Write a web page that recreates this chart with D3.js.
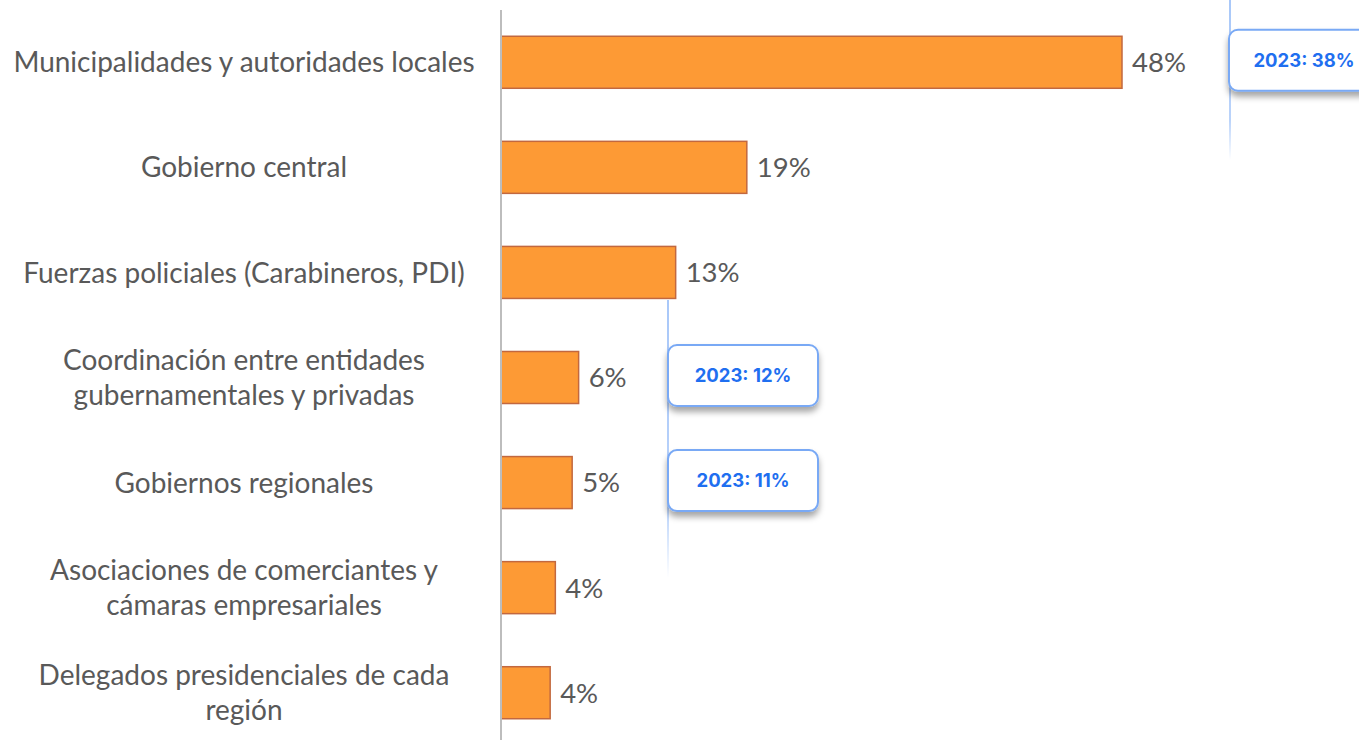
<!DOCTYPE html>
<html>
<head>
<meta charset="utf-8">
<script src="https://cdn.jsdelivr.net/npm/d3@7"></script>
<style>
  body { margin: 0; background: #fff; }
  svg { display: block; }
</style>
</head>
<body>
<svg width="1359" height="740"></svg>
<script>
var categories = [
  ["Municipalidades y autoridades locales"],
  ["Gobierno central"],
  ["Fuerzas policiales (Carabineros, PDI)"],
  ["Coordinación entre entidades", "gubernamentales y privadas"],
  ["Gobiernos regionales"],
  ["Asociaciones de comerciantes y", "cámaras empresariales"],
  ["Delegados presidenciales de cada", "región"]
];
var values = [48, 19, 13.5, 6, 5.5, 4.2, 3.8];
var valueLabels = ["48%", "19%", "13%", "6%", "5%", "4%", "4%"];

// 2023 comparison callouts
var calloutIndex = [0, 3, 4];
var calloutLabels = ["2023: 38%", "2023: 12%", "2023: 11%"];

var svgWidth = 1359, svgHeight = 740;
var axisX = 501;

var svg = d3.select("svg");

var defs = svg.append("defs");
var shadow = defs.append("filter").attr("id", "shadow")
  .attr("x", "-20%").attr("y", "-20%").attr("width", "140%").attr("height", "160%");
shadow.append("feDropShadow")
  .attr("dx", 0).attr("dy", 5).attr("stdDeviation", 3)
  .attr("flood-color", "#000").attr("flood-opacity", 0.35);

var fade = defs.append("linearGradient").attr("id", "fade")
  .attr("x1", 0).attr("y1", 0).attr("x2", 0).attr("y2", 1);
fade.append("stop").attr("offset", "0%").attr("stop-color", "#6fa3f5").attr("stop-opacity", 1);
fade.append("stop").attr("offset", "75%").attr("stop-color", "#6fa3f5").attr("stop-opacity", 0.8);
fade.append("stop").attr("offset", "100%").attr("stop-color", "#6fa3f5").attr("stop-opacity", 0);

var xScale = d3.scaleLinear()
  .domain([0, 48])
  .range([axisX, 1122]);

var yScale = d3.scaleBand()
  .domain(d3.range(values.length))
  .range([10, 745])
  .paddingInner(0.505)
  .paddingOuter(0.25);

// bars
svg.selectAll("rect.bar")
  .data(values)
  .enter()
  .append("rect")
  .attr("class", "bar")
  .attr("x", xScale(0))
  .attr("y", (d, i) => yScale(i))
  .attr("width", (d) => xScale(d) - xScale(0))
  .attr("height", yScale.bandwidth())
  .attr("fill", "#fd9a35")
  .attr("stroke", "#c2683f")
  .attr("stroke-width", 1.5);

// axis line
svg.append("line")
  .attr("x1", axisX).attr("x2", axisX)
  .attr("y1", 10).attr("y2", svgHeight)
  .attr("stroke", "#bdbdbd")
  .attr("stroke-width", 2);

// value labels
svg.selectAll("text.value")
  .data(values)
  .enter()
  .append("text")
  .attr("class", "value")
  .attr("x", (d) => xScale(d) + 10)
  .attr("y", (d, i) => yScale(i) + yScale.bandwidth() / 2)
  .attr("dy", "0.36em")
  .attr("font-family", "Lato")
  .attr("font-size", 27.5)
  .attr("fill", "#595959")
  .text((d, i) => valueLabels[i]);

// category labels
var cat = svg.selectAll("text.cat")
  .data(categories)
  .enter()
  .append("text")
  .attr("class", "cat")
  .attr("text-anchor", "middle")
  .attr("font-family", "Lato")
  .attr("font-size", 28)
  .attr("fill", "#595959");

cat.selectAll("tspan")
  .data((d, i) => d.map((line, j) => ({ line: line, j: j, n: d.length, i: i })))
  .enter()
  .append("tspan")
  .attr("x", 244)
  .attr("y", (t) => yScale(t.i) + yScale.bandwidth() / 2 + (t.j - (t.n - 1) / 2) * 35)
  .attr("dy", "0.36em")
  .text((t) => t.line);

// callout guide lines
svg.append("line")
  .attr("x1", 1230).attr("x2", 1230.01)
  .attr("y1", 0).attr("y2", 160)
  .attr("stroke", "url(#fade)").attr("stroke-width", 1.2);
svg.append("line")
  .attr("x1", 668).attr("x2", 668.01)
  .attr("y1", 300).attr("y2", 578)
  .attr("stroke", "url(#fade)").attr("stroke-width", 1.2);

// callout boxes
var calloutX = [1229, 668, 668];
var boxW = 150, boxH = 61;

var callout = svg.selectAll("g.callout")
  .data(calloutIndex)
  .enter()
  .append("g")
  .attr("class", "callout")
  .attr("transform", (d, k) => "translate(" + calloutX[k] + "," + (yScale(d) + yScale.bandwidth() / 2 - boxH / 2 - 2) + ")");

callout.append("rect")
  .attr("width", boxW)
  .attr("height", boxH)
  .attr("rx", 9)
  .attr("fill", "#fff")
  .attr("stroke", "#79a9f5")
  .attr("stroke-width", 2)
  .attr("filter", "url(#shadow)");

callout.append("text")
  .attr("x", boxW / 2)
  .attr("y", boxH / 2)
  .attr("dy", "0.36em")
  .attr("text-anchor", "middle")
  .attr("font-family", "Inter")
  .attr("font-weight", 700)
  .attr("font-size", 18.5)
  .attr("fill", "#1f6ff0")
  .text((d, k) => calloutLabels[k]);
</script>
</body>
</html>
